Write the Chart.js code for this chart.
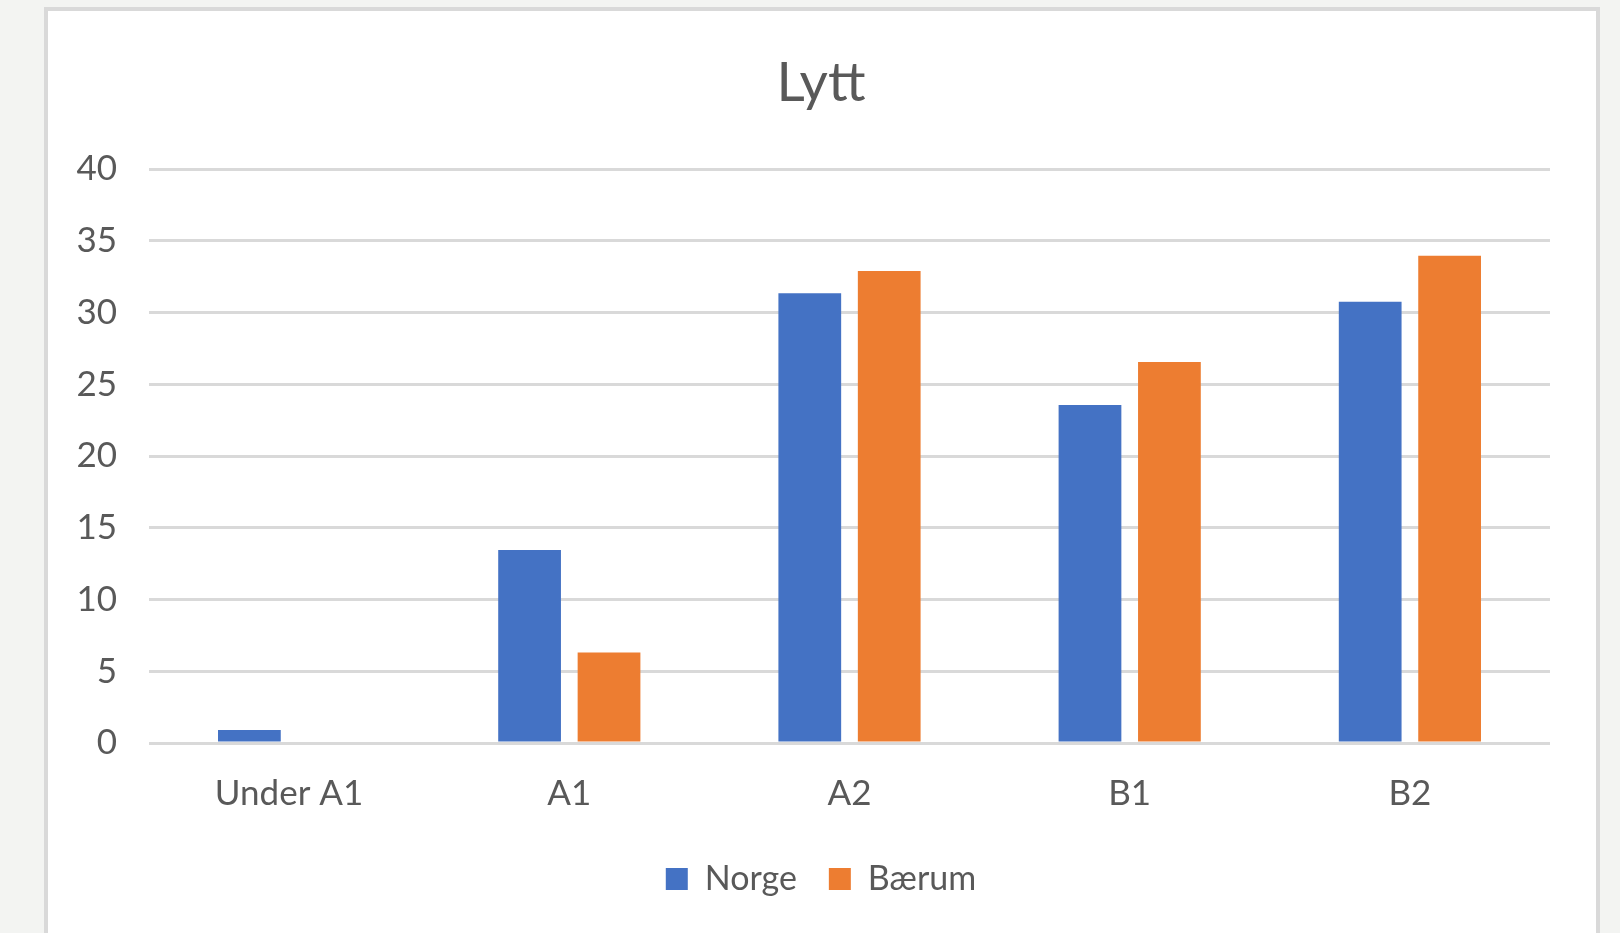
<!DOCTYPE html>
<html>
<head>
<meta charset="utf-8">
<script src="https://cdn.jsdelivr.net/npm/chart.js@4.4.1/dist/chart.umd.min.js"></script>
<style>
  html, body { margin: 0; padding: 0; background: #f3f4f2; width: 1620px; height: 933px; overflow: hidden; }
  #box { position: absolute; left: 44px; top: 7px; width: 1548px; height: 960px; border: 4px solid #d9d9d9; background: #ffffff; }
  #wrap { position: absolute; left: 0; top: 0; width: 1620px; height: 933px; }
</style>
</head>
<body>
<div id="box"></div>
<div id="wrap"><canvas id="c" width="1620" height="933"></canvas></div>
<script>
const categories = ["Under A1", "A1", "A2", "B1", "B2"];
const norge = [0.9, 13.45, 31.35, 23.55, 30.75];
const baerum = [0, 6.3, 32.9, 26.55, 33.95];
const seriesNames = ["Norge", "Bærum"];
const chartTitle = "Lytt";

const textColor = "#595959";
const fontFamily = "Lato, 'Open Sans', 'DejaVu Sans', sans-serif";

// widen the y-axis label clip region so tick labels can sit left of the padded area
const widenYLabels = {
  id: "widenYLabels",
  afterLayout(chart) { chart.scales.y.left = 55; }
};

new Chart(document.getElementById("c"), {
  type: "bar",
  data: {
    labels: categories,
    datasets: [
      { label: seriesNames[0], data: norge, backgroundColor: "#4472C4" },
      { label: seriesNames[1], data: baerum, backgroundColor: "#ED7D31" }
    ]
  },
  plugins: [widenYLabels],
  options: {
    responsive: false,
    animation: false,
    devicePixelRatio: 1,
    layout: { padding: { left: 92, right: 70, top: 0, bottom: 27 } },
    datasets: { bar: { categoryPercentage: 0.567, barPercentage: 0.79 } },
    plugins: {
      title: {
        display: true,
        text: chartTitle,
        color: textColor,
        font: { family: fontFamily, size: 55, weight: "normal" },
        padding: { top: 50, bottom: 53 }
      },
      legend: {
        position: "bottom",
        labels: {
          color: textColor,
          font: { family: fontFamily, size: 34 },
          boxWidth: 22,
          boxHeight: 22,
          padding: 32
        }
      },
      tooltip: { enabled: false }
    },
    scales: {
      x: {
        afterFit: (s) => { s.height = 87; },
        grid: { display: false, drawTicks: false },
        border: { display: false },
        ticks: { color: textColor, font: { family: fontFamily, size: 35 }, padding: 30, maxRotation: 0 }
      },
      y: {
        min: 0,
        max: 40,
        afterFit: (s) => { s.width = 57; },
        grid: { color: "#d9d9d9", lineWidth: 3, drawTicks: false },
        border: { display: false },
        ticks: { stepSize: 5, color: textColor, font: { family: fontFamily, size: 35 }, padding: 32 }
      }
    }
  }
});
</script>
</body>
</html>
